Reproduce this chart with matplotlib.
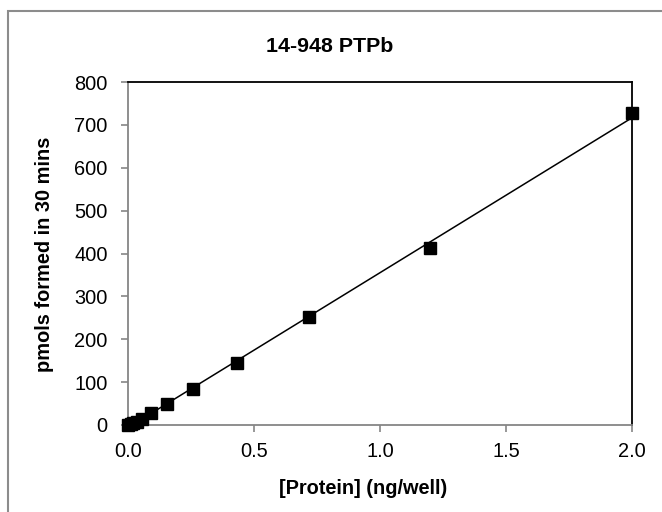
import matplotlib
matplotlib.use("Agg")
import matplotlib.pyplot as plt
from matplotlib.patches import Rectangle
import numpy as np

# protein dilution series (ng/well) and product formed (pmols in 30 mins)
protein = [0.0, 0.012, 0.02, 0.034, 0.056, 0.093, 0.156, 0.259, 0.432, 0.72, 1.2, 2.0]
pmols = [0, 2, 4, 8, 15, 28, 48, 85, 145, 252, 412, 728]
x_ticks = [0.0, 0.5, 1.0, 1.5, 2.0]
y_ticks = [0, 100, 200, 300, 400, 500, 600, 700, 800]

plt.rcParams['font.family'] = ['Liberation Sans', 'DejaVu Sans']

fig = plt.figure(figsize=(6.62, 5.12), dpi=100)
ax = fig.add_axes([128 / 662, 87 / 512, 504 / 662, 343 / 512])

# outer chart border (runs off the right and bottom edge)
fig.patches.append(Rectangle((8 / 662, -0.1), 1.2, 1 - 11 / 512 + 0.1,
                             transform=fig.transFigure, fill=False,
                             edgecolor='#8c8c8c', linewidth=1.5))

# linear trendline
slope, icpt = np.polyfit(protein, pmols, 1)
xl = np.array([0.0, 2.0])
ax.plot(xl, slope * xl + icpt, color='black', linewidth=1.1, zorder=2)
ax.plot(protein, pmols, linestyle='none', marker='s', markersize=8,
        color='black', zorder=3, clip_on=False)

ax.set_xlim(0, 2.0)
ax.set_ylim(0, 800)
ax.set_xticks(x_ticks)
ax.set_xticklabels([f"{v:.1f}" for v in x_ticks])
ax.set_yticks(y_ticks)

for s in ['left', 'bottom']:
    ax.spines[s].set_color('#868686')
    ax.spines[s].set_linewidth(1.3)
for s in ['top', 'right']:
    ax.spines[s].set_color('black')
    ax.spines[s].set_linewidth(1.3)

ax.tick_params(direction='out', length=5, width=1.2, color='#868686',
               labelsize=14.4)
ax.tick_params(axis='x', pad=7.5)
ax.tick_params(axis='y', pad=9.5)

fig.text(330 / 662, 1 - 47 / 512, "14-948 PTPb", ha='center', va='center',
         fontsize=15.4, fontweight='bold')
fig.text(363 / 662, 1 - 488 / 512, "[Protein] (ng/well)", ha='center',
         va='center', fontsize=14.4, fontweight='bold')
fig.text(45 / 662, 1 - 254 / 512, "pmols formed in 30 mins", ha='center',
         va='center', rotation=90, fontsize=14.4, fontweight='bold')

fig.savefig("out.png", dpi=100)
